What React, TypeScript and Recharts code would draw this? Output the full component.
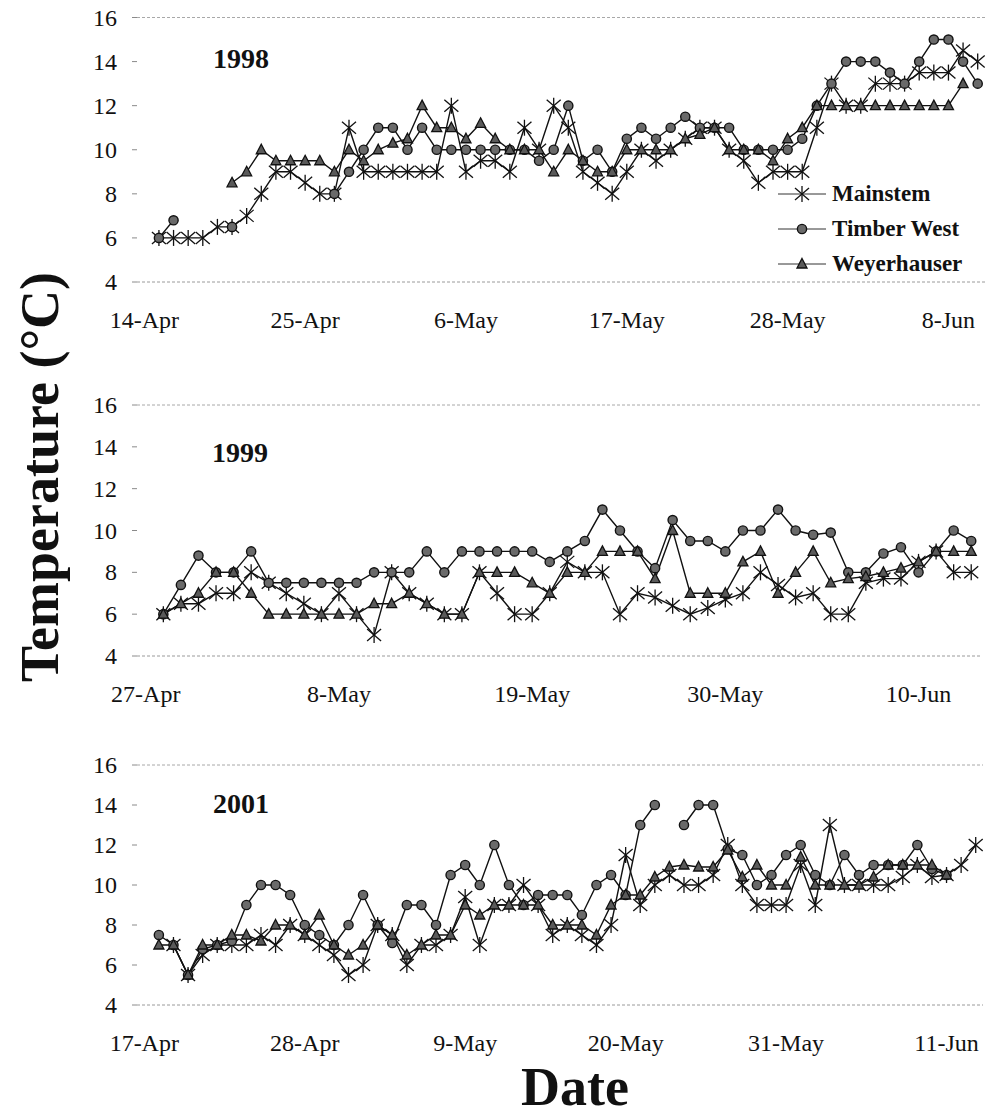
import React from "react";
import { Legend, Line, LineChart, ReferenceLine, XAxis, YAxis } from "recharts";

// Daily stream temperatures (°C); index 0 = first day after the first tick label
const _ = null;

const ticks1998 = ["14-Apr", "25-Apr", "6-May", "17-May", "28-May", "8-Jun"];
const mainstem1998 = [
  6, 6, 6, 6, 6.5, 6.5, 7, 8, 9, 9,
  8.5, 8, 8, 11, 9, 9, 9, 9, 9, 9,
  12, 9, 9.5, 9.5, 9, 11, 10, 12, 11, 9,
  8.5, 8, 9, 10, 9.5, 10, 10.5, 11, 11, 10,
  9.5, 8.5, 9, 9, 9, 11, 13, 12, 12, 13,
  13, 13, 13.5, 13.5, 13.5, 14.5, 14,
];
const timberWest1998 = [
  6, 6.8, _, _, _, 6.5, _, _, _, _,
  _, _, 8, 9, 10, 11, 11, 10, 11, 10,
  10, 10, 10, 10, 10, 10, 9.5, 10, 12, 9.5,
  10, 9, 10.5, 11, 10.5, 11, 11.5, 11, 11, 11,
  10, 10, 10, 10, 10.5, 12, 13, 14, 14, 14,
  13.5, 13, 14, 15, 15, 14, 13,
];
const weyerhauser1998 = [
  _, _, _, _, _, 8.5, 9, 10, 9.5, 9.5,
  9.5, 9.5, 9, 10, 9.5, 10, 10.3, 10.5, 12, 11,
  11, 10.5, 11.2, 10.5, 10, 10, 10, 9, 10, 9.5,
  9, 9, 10, 10, 10, 10, 10.5, 10.7, 11, 10,
  10, 10, 9.5, 10.5, 11, 12, 12, 12, 12, 12,
  12, 12, 12, 12, 12, 13, _,
];

const ticks1999 = ["27-Apr", "8-May", "19-May", "30-May", "10-Jun"];
const mainstem1999 = [
  6, 6.5, 6.5, 7, 7, 8, 7.5, 7, 6.5, 6,
  7, 6, 5, 8, 7, 6.5, 6, 6, 8, 7,
  6, 6, 7, 8.5, 8, 8, 6, 7, 6.8, 6.4,
  6, 6.3, 6.7, 7, 8, 7.4, 6.8, 7, 6, 6,
  7.5, 7.7, 7.7, 8.5, 9, 8, 8,
];
const timberWest1999 = [
  6, 7.4, 8.8, 8, 8, 9, 7.5, 7.5, 7.5, 7.5,
  7.5, 7.5, 8, 8, 8, 9, 8, 9, 9, 9,
  9, 9, 8.5, 9, 9.5, 11, 10, 9, 8.2, 10.5,
  9.5, 9.5, 9, 10, 10, 11, 10, 9.8, 9.9, 8,
  8, 8.9, 9.2, 8, 9, 10, 9.5,
];
const weyerhauser1999 = [
  6, 6.5, 7, 8, 8, 7, 6, 6, 6, 6,
  6, 6, 6.5, 6.5, 7, 6.5, 6, 6, 8, 8,
  8, 7.5, 7, 8, 8, 9, 9, 9, 7.7, 10,
  7, 7, 7, 8.5, 9, 7, 8, 9, 7.5, 7.7,
  7.8, 8, 8.2, 8.5, 9, 9, 9,
];

const ticks2001 = ["17-Apr", "28-Apr", "9-May", "20-May", "31-May", "11-Jun"];
const mainstem2001 = [
  _, 7, 5.5, 6.5, 7, 7, 7, 7.5, 7, 8,
  7.5, 7, 6.5, 5.5, 6, 8, 7.5, 6, 7, 7,
  7.5, 9.4, 7, 9, 9, 10, 9, 7.5, 8, 7.5,
  7, 8, 11.5, 9, 10, 10.5, 10, 10, 10.5, 12,
  10, 9, 9, 9, 11, 9, 13, 10, 10, 10,
  10, 10.4, 11, 10.4, 10.5, 11, 12,
];
const timberWest2001 = [
  7.5, 7, 5.5, 6.8, 7, 7.2, 9, 10, 10, 9.5,
  8, 7.5, 7, 8, 9.5, 8, 7.1, 9, 9, 8,
  10.5, 11, 10, 12, 10, 9, 9.5, 9.5, 9.5, 8.5,
  10, 10.5, 9.5, 13, 14, _, 13, 14, 14, 11.8,
  11.5, 10, 10.5, 11.5, 12, 10.5, 10, 11.5, 10.5, 11,
  11, 11, 12, 10.8, 10.5, _, _,
];
const weyerhauser2001 = [
  7, 7, 5.5, 7, 7, 7.5, 7.5, 7.2, 8, 8,
  7.5, 8.5, 7, 6.5, 7, 8, 7.5, 6.5, 7, 7.5,
  7.5, 9, 8.5, 9, 9, 9, 9, 8, 8, 8,
  7.5, 9, 9.5, 9.5, 10.4, 10.9, 11, 10.9, 10.9, 11.75,
  10.4, 11, 10, 10, 11.4, 10, 10, 10, 10, 10.4,
  11, 11, 11, 11, 10.5, _, _,
];

const yTicks = [4, 6, 8, 10, 12, 14, 16];
const SERIF = "Liberation Serif, Times New Roman, Tinos, DejaVu Serif, serif";

function buildRows(m: (number | null)[], t: (number | null)[], w: (number | null)[]) {
  return m.map((v, i) => ({ day: i + 1, mainstem: v, timberWest: t[i], weyerhauser: w[i] }));
}

const StarMark = ({ cx, cy }: { cx: number; cy: number }) => (
  <g stroke="#111" strokeWidth={1.3}>
    <line x1={cx - 7} y1={cy - 6} x2={cx + 7} y2={cy + 6} />
    <line x1={cx - 7} y1={cy + 6} x2={cx + 7} y2={cy - 6} />
    <line x1={cx} y1={cy - 8} x2={cx} y2={cy + 8} />
  </g>
);
const CircleMark = ({ cx, cy }: { cx: number; cy: number }) => (
  <circle cx={cx} cy={cy} r={4.6} fill="#6a6a6a" stroke="#111" strokeWidth={1.4} />
);
const TriMark = ({ cx, cy }: { cx: number; cy: number }) => (
  <polygon
    points={`${cx},${cy - 5.5} ${cx + 5},${cy + 4} ${cx - 5},${cy + 4}`}
    fill="#5a5a5a"
    stroke="#111"
    strokeWidth={1.3}
  />
);

const makeDot = (Mark: React.FC<{ cx: number; cy: number }>, tag: string) => (props: any) => {
  const { cx, cy, index, value } = props;
  if (cx == null || cy == null || value == null || Number.isNaN(cy)) return <g key={`${tag}${index}`} />;
  return (
    <g key={`${tag}${index}`}>
      <Mark cx={cx} cy={cy} />
    </g>
  );
};

// serif tick labels (Times-like, as in the scanned figure)
const makeXTick = (labels: string[]) => (props: any) => {
  const { x, y, payload } = props;
  return (
    <text x={x} y={y + 40} textAnchor="middle" fontFamily={SERIF} fontSize={24} fill="#111">
      {labels[Math.round(payload.value / 11)] ?? ""}
    </text>
  );
};

const YTick = (props: any) => {
  const { x, y, payload } = props;
  return (
    <text x={x} y={y + 8} textAnchor="end" fontFamily={SERIF} fontSize={24} fill="#111">
      {payload.value}
    </text>
  );
};

const legendItems = [
  { name: "Mainstem", Mark: StarMark },
  { name: "Timber West", Mark: CircleMark },
  { name: "Weyerhauser", Mark: TriMark },
];

const LegendBox = () => (
  <div style={{ fontFamily: SERIF, fontWeight: 700, fontSize: 23, color: "#111" }}>
    {legendItems.map(({ name, Mark }) => (
      <div key={name} style={{ display: "flex", alignItems: "center", height: 35 }}>
        <svg width={54} height={24}>
          <line x1={2} y1={12} x2={50} y2={12} stroke="#333" strokeWidth={1} />
          <Mark cx={26} cy={12} />
        </svg>
        <span style={{ marginLeft: 2 }}>{name}</span>
      </div>
    ))}
  </div>
);

type PanelProps = {
  top: number;
  height: number;
  marginTop: number;
  right: number;
  maxDay: number;
  tickLabels: string[];
  rows: ReturnType<typeof buildRows>;
  legend?: boolean;
};

const Panel = ({ top, height, marginTop, right, maxDay, tickLabels, rows, legend }: PanelProps) => {
  const tickDays = tickLabels.map((_l, i) => i * 11);
  return (
    <div style={{ position: "absolute", left: 0, top }}>
      <LineChart width={987} height={height} data={rows} margin={{ top: marginTop, right, bottom: 0, left: 0 }}>
        <XAxis
          type="number"
          dataKey="day"
          domain={[-0.5, maxDay + 0.5]}
          ticks={tickDays}
          interval={0}
          axisLine={{ stroke: "#9a9a9a", strokeDasharray: "3 2" }}
          tickLine={false}
          tickMargin={0}
          height={60}
          tick={makeXTick(tickLabels)}
        />
        <YAxis
          type="number"
          domain={[4, 16]}
          ticks={yTicks}
          interval={0}
          width={137}
          axisLine={false}
          tickLine={{ stroke: "#8a8a8a" }}
          tickSize={5}
          tickMargin={15}
          tick={YTick}
        />
        <ReferenceLine y={16} stroke="#a8a8a8" strokeDasharray="3 2" />
        <Line
          dataKey="mainstem"
          name="Mainstem"
          stroke="#111"
          strokeWidth={1.4}
          dot={makeDot(StarMark, "m")}
          activeDot={false}
          isAnimationActive={false}
        />
        <Line
          dataKey="timberWest"
          name="Timber West"
          stroke="#111"
          strokeWidth={1.4}
          dot={makeDot(CircleMark, "t")}
          activeDot={false}
          isAnimationActive={false}
        />
        <Line
          dataKey="weyerhauser"
          name="Weyerhauser"
          stroke="#111"
          strokeWidth={1.4}
          dot={makeDot(TriMark, "w")}
          activeDot={false}
          isAnimationActive={false}
        />
        {legend && (
          <Legend
            layout="vertical"
            align="center"
            verticalAlign="middle"
            content={() => <LegendBox />}
            wrapperStyle={{ left: 776, top: 176, width: 210 }}
          />
        )}
      </LineChart>
    </div>
  );
};

const yearLabels = [
  { text: "1998", x: 213, y: 68 },
  { text: "1999", x: 212, y: 462 },
  { text: "2001", x: 213, y: 813 },
];

export default function App() {
  return (
    <div style={{ position: "absolute", left: 0, top: 0, width: 987, height: 1118, background: "#fff" }}>
      <Panel
        top={0}
        height={342}
        marginTop={17.5}
        right={2}
        maxDay={57}
        tickLabels={ticks1998}
        rows={buildRows(mainstem1998, timberWest1998, weyerhauser1998)}
        legend
      />
      <Panel
        top={360}
        height={356}
        marginTop={45}
        right={7}
        maxDay={47}
        tickLabels={ticks1999}
        rows={buildRows(mainstem1999, timberWest1999, weyerhauser1999)}
      />
      <Panel
        top={720}
        height={345}
        marginTop={45}
        right={4}
        maxDay={57}
        tickLabels={ticks2001}
        rows={buildRows(mainstem2001, timberWest2001, weyerhauser2001)}
      />
      <svg
        width={987}
        height={1118}
        style={{ position: "absolute", left: 0, top: 0, pointerEvents: "none" }}
      >
        {yearLabels.map((l) => (
          <text key={l.text} x={l.x} y={l.y} fontFamily={SERIF} fontWeight={700} fontSize={28} fill="#111">
            {l.text}
          </text>
        ))}
        <text
          transform="translate(58,477) rotate(-90)"
          textAnchor="middle"
          fontFamily={SERIF}
          fontWeight={700}
          fontSize={54}
          fill="#111"
        >
          Temperature (°C)
        </text>
        <text x={575} y={1105} textAnchor="middle" fontFamily={SERIF} fontWeight={700} fontSize={54} fill="#111">
          Date
        </text>
      </svg>
    </div>
  );
}
